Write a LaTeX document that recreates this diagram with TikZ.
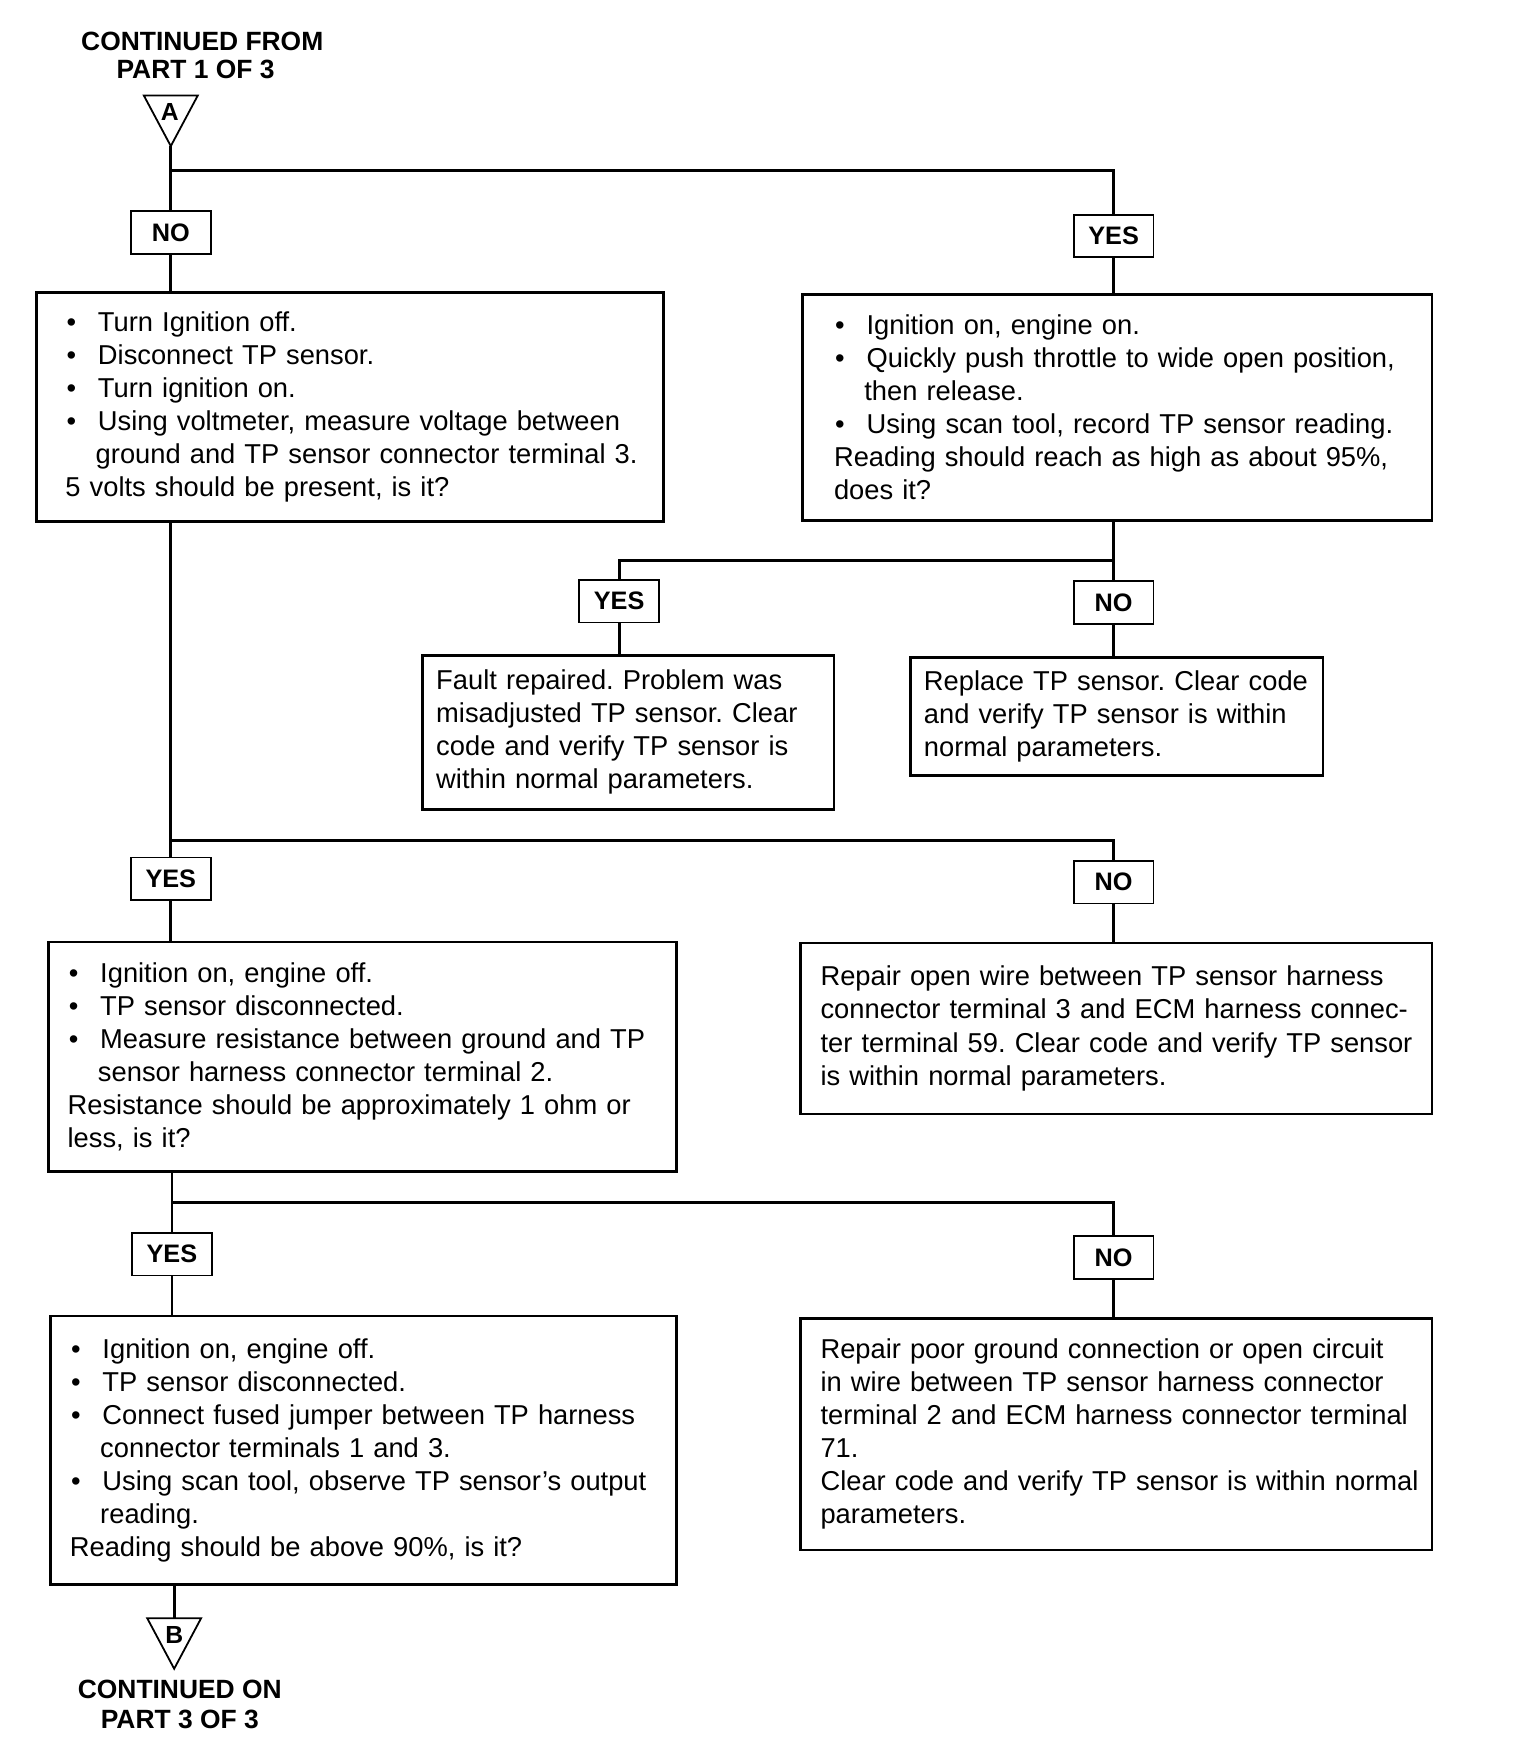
\documentclass[tikz,border=0pt]{standalone}
\usepackage{fontspec}
\setmainfont{Liberation Sans}
\frenchspacing
\newcommand\bulitem{\makebox[29pt][l]{\hspace{1pt}\textbullet}}
\newcommand\contind{\hspace*{27pt}}
\begin{document}
\begin{tikzpicture}[x=1pt,y=-1pt,
 box/.style={draw,line width=2.4pt,anchor=north west,inner xsep=4pt,inner ysep=0pt,align=left,font=\fontsize{24.3}{29.4}\selectfont\frenchspacing},
 lab/.style={draw,line width=1.6pt,font=\bfseries\fontsize{22.5}{26}\selectfont,minimum width=71pt,minimum height=38pt,inner sep=0pt},
 hdr/.style={font=\bfseries\fontsize{23.5}{26}\selectfont,inner sep=0pt},
 conn/.style={line width=2.4pt},
 tri/.style={line width=1.6pt,line join=miter}]
\useasboundingbox (0,0) rectangle (1353,1568);

% headers
\node[hdr] (h1) at (180,37) {CONTINUED FROM};
\node[hdr] (h2) at (174,62) {PART 1 OF 3};
\node[hdr] (h3) at (160,1503) {CONTINUED ON};
\node[hdr] (h4) at (160,1530) {PART 3 OF 3};

% triangle A
\coordinate (AL) at (128,85);
\coordinate (AR) at (176,85);
\coordinate (Aapex) at (152,130);
\draw[tri] (AL) -- (AR) -- (Aapex) -- cycle;
\node[font=\bfseries\fontsize{22}{22}\selectfont,inner sep=0pt] (Alet) at (151,100) {A};

% triangle B
\coordinate (BL) at (131,1440);
\coordinate (BR) at (179,1440);
\coordinate (Bapex) at (155,1485);
\draw[tri] (BL) -- (BR) -- (Bapex) -- cycle;
\node[font=\bfseries\fontsize{22}{22}\selectfont,inner sep=0pt] (Blet) at (155,1455) {B};

% labels
\node[lab] (no1) at (152,207) {NO};
\node[lab] (yes1) at (991,210) {YES};
\node[lab] (yes2) at (551,535) {YES};
\node[lab] (no2) at (991,536) {NO};
\node[lab] (yes3) at (152,782) {YES};
\node[lab] (no3) at (991,785) {NO};
\node[lab] (yes4) at (153,1116) {YES};
\node[lab] (no4) at (991,1119) {NO};

% boxes
\node[box,minimum width=558pt,minimum height=204pt,text width=550pt] (b1) at (31,259) {\leftskip=22pt
\bulitem Turn Ignition off.\\
\bulitem Disconnect TP sensor.\\
\bulitem Turn ignition on.\\
\bulitem Using voltmeter, measure voltage between\\
\contind ground and TP sensor connector terminal 3.\\
5 volts should be present, is it?\par};

\node[box,minimum width=560pt,minimum height=201pt,text width=552pt] (b2) at (713,261) {\leftskip=24pt
\bulitem Ignition on, engine on.\\
\bulitem Quickly push throttle to wide open position,\\
\contind then release.\\
\bulitem Using scan tool, record TP sensor reading.\\
Reading should reach as high as about 95\%,\\
does it?\par};

\node[box,minimum width=366pt,minimum height=137pt,text width=358pt] (b3) at (375,582) {\leftskip=8pt
Fault repaired. Problem was\\
misadjusted TP sensor. Clear\\
code and verify TP sensor is\\
within normal parameters.\par};

\node[box,minimum width=367pt,minimum height=105pt,text width=359pt] (b4) at (809,584) {\leftskip=8pt
Replace TP sensor. Clear code\\
and verify TP sensor is within\\
normal parameters.\par};

\node[box,minimum width=559pt,minimum height=204pt,text width=551pt] (b5) at (42,837) {\leftskip=13pt
\bulitem Ignition on, engine off.\\
\bulitem TP sensor disconnected.\\
\bulitem Measure resistance between ground and TP\\
\contind sensor harness connector terminal 2.\\
Resistance should be approximately 1 ohm or\\
less, is it?\par};

\node[box,minimum width=562pt,minimum height=152pt,text width=554pt] (b6) at (711,838) {\leftskip=14pt
Repair open wire between TP sensor harness\\
connector terminal 3 and ECM harness connec-\\
ter terminal 59. Clear code and verify TP sensor\\
is within normal parameters.\par};

\node[box,minimum width=557pt,minimum height=239pt,text width=549pt] (b7) at (44,1170) {\leftskip=13pt
\bulitem Ignition on, engine off.\\
\bulitem TP sensor disconnected.\\
\bulitem Connect fused jumper between TP harness\\
\contind connector terminals 1 and 3.\\
\bulitem Using scan tool, observe TP sensor's output\\
\contind reading.\\
Reading should be above 90\%, is it?\par};

\node[box,minimum width=562pt,minimum height=206pt,text width=554pt] (b8) at (711,1172) {\leftskip=14pt
Repair poor ground connection or open circuit\\
in wire between TP sensor harness connector\\
terminal 2 and ECM harness connector terminal\\
71.\\
Clear code and verify TP sensor is within normal\\
parameters.\par};

% junctions
\coordinate (j1) at (152,152);
\coordinate (j2) at (991,499);
\coordinate (j3) at (152,748);
\coordinate (j4) at (153,1070);

% connectors
\draw[conn] (Aapex) -- (no1.north);
\draw[conn] (j1) -| (yes1.north);
\draw[conn] (no1.south) -- (no1.south |- b1.north);
\draw[conn] (yes1.south) -- (yes1.south |- b2.north);
\draw[conn] (yes1.south |- b2.south) -- (j2) -| (yes2.north);
\draw[conn] (j2) -- (no2.north);
\draw[conn] (yes2.south) -- (yes2.south |- b3.north);
\draw[conn] (no2.south) -- (no2.south |- b4.north);
\draw[conn] (no1.south |- b1.south) -- (yes3.north);
\draw[conn] (j3) -| (no3.north);
\draw[conn] (yes3.south) -- (yes3.south |- b5.north);
\draw[conn] (no3.south) -- (no3.south |- b6.north);
\draw[conn] (yes4.north |- b5.south) -- (yes4.north);
\draw[conn] (j4) -| (no4.north);
\draw[conn] (yes4.south) -- (yes4.south |- b7.north);
\draw[conn] (no4.south) -- (no4.south |- b8.north);
\draw[conn] (Bapex |- b7.south) -- (Bapex |- BL);
\end{tikzpicture}
\end{document}
